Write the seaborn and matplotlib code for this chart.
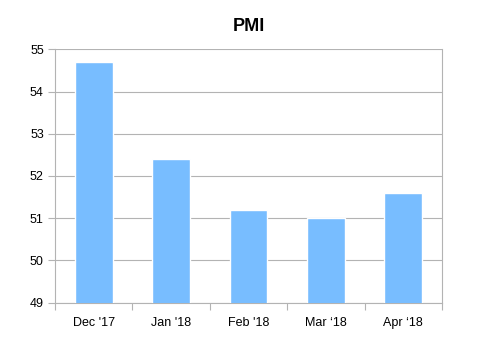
import matplotlib
matplotlib.use("Agg")
import matplotlib.pyplot as plt
import seaborn as sns
import pandas as pd
from matplotlib.ticker import FixedLocator

categories = ["Dec '17", "Jan '18", "Feb '18", "Mar \u201818", "Apr \u201818"]
pmi_values = [54.7, 52.4, 51.2, 51.0, 51.6]

df = pd.DataFrame({"month": categories, "pmi": pmi_values})

sns.set_theme(style="white")
plt.rcParams['font.family'] = ['Liberation Sans', 'DejaVu Sans']

fig = plt.figure(figsize=(4.97, 3.41), dpi=100)
ax = fig.add_axes([55/497, 1-302.7/341, 387/497, 253.4/341])

sns.barplot(data=df, x="month", y="pmi", color="#78bdff", saturation=1,
            width=0.49, ax=ax, zorder=3)

ax.set_ylim(49, 55)
ax.set_xlim(-0.5, len(categories)-0.5)
ax.set_yticks(range(49, 56))
ax.yaxis.grid(True, color="#b3b3b3", linewidth=0.8, zorder=0)
ax.xaxis.grid(False)
ax.set_xlabel("")
ax.set_ylabel("")
ax.set_title("PMI", fontsize=13, fontweight="bold", pad=13, color="#000000")

for s in ["left", "bottom", "right"]:
    ax.spines[s].set_visible(True)
    ax.spines[s].set_color("#b3b3b3")
    ax.spines[s].set_linewidth(0.8)
ax.spines["top"].set_visible(False)

ax.tick_params(axis="y", which="major", length=5, color="#b3b3b3", width=0.8,
               labelsize=9, left=True, pad=3, labelcolor="#000000")
ax.tick_params(axis="x", which="major", length=0, labelsize=9, pad=10,
               labelcolor="#000000")
ax.xaxis.set_minor_locator(FixedLocator([i - 0.5 for i in range(len(categories)+1)]))
ax.tick_params(axis="x", which="minor", length=5, color="#b3b3b3", width=0.8,
               bottom=True)

fig.savefig("out.png", dpi=100)
